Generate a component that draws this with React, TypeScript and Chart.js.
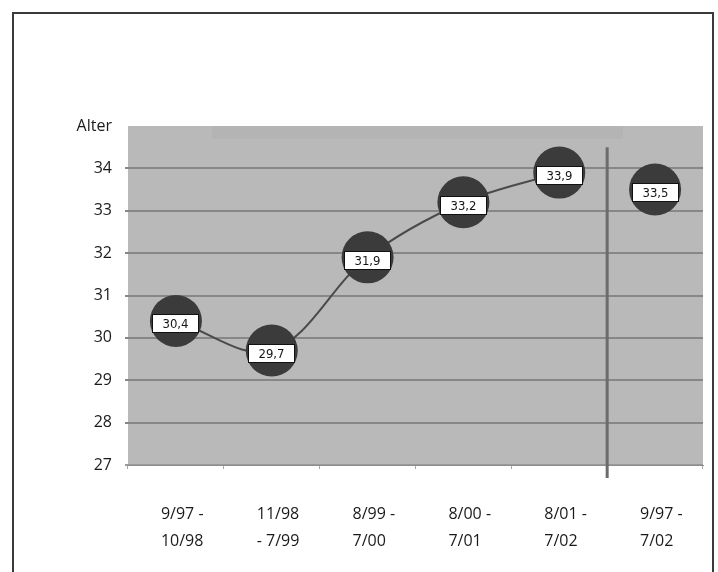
import { useEffect, useRef } from 'react';
import { Chart, registerables } from 'chart.js';

Chart.register(...registerables);

// Periods along the x axis (two lines each)
const periods: string[][] = [
  ['9/97 -', '10/98'],
  ['11/98', '- 7/99'],
  ['8/99 -', '7/00'],
  ['8/00 -', '7/01'],
  ['8/01 -', '7/02'],
  ['9/97 -', '7/02'],
];

// Average age per yearly period, and the overall average
const yearlyAge: (number | null)[] = [30.4, 29.7, 31.9, 33.2, 33.9, null];
const overallAge: (number | null)[] = [null, null, null, null, null, 33.5];

const yMin = 27;
const yMax = 35;
const yAxisTitle = 'Alter';

const fmt = (v: number) => v.toFixed(1).replace('.', ',');

const plotBackground = {
  id: 'plotBackground',
  beforeDraw(chart: any) {
    const { ctx, chartArea: a } = chart;
    ctx.save();
    ctx.fillStyle = '#b9b9b9';
    ctx.fillRect(a.left, a.top, a.right - a.left, a.bottom - a.top);
    // faint band along the top edge
    ctx.fillStyle = '#b4b4b4';
    ctx.fillRect(a.left + 84, a.top, 411, 13);
    ctx.restore();
  },
};

const separator = {
  id: 'separator',
  beforeDatasetsDraw(chart: any) {
    const { ctx, scales } = chart;
    const x = (scales.x.getPixelForValue(4) + scales.x.getPixelForValue(5)) / 2;
    ctx.save();
    ctx.strokeStyle = '#6c6c6c';
    ctx.lineWidth = 3;
    ctx.beginPath();
    ctx.moveTo(x, scales.y.getPixelForValue(34.5));
    ctx.lineTo(x, scales.y.bottom + 13);
    ctx.stroke();
    ctx.restore();
  },
};

const valueBoxes = {
  id: 'valueBoxes',
  afterDatasetsDraw(chart: any) {
    const { ctx } = chart;
    ctx.save();
    ctx.font = '13px "DejaVu Sans Condensed", "DejaVu Sans", sans-serif';
    ctx.textAlign = 'center';
    ctx.textBaseline = 'middle';
    chart.data.datasets.forEach((ds: any, i: number) => {
      const meta = chart.getDatasetMeta(i);
      ds.data.forEach((v: number | null, j: number) => {
        if (v === null || v === undefined) return;
        const el = meta.data[j];
        const text = fmt(v);
        const w = Math.round(ctx.measureText(text).width + 21);
        const h = 19;
        const left = Math.round(el.x - w / 2);
        const top = Math.round(el.y + 3 - h / 2);
        ctx.fillStyle = '#ffffff';
        ctx.fillRect(left, top, w, h);
        ctx.strokeStyle = '#111111';
        ctx.lineWidth = 1;
        ctx.strokeRect(left + 0.5, top + 0.5, w - 1, h - 1);
        ctx.fillStyle = '#151515';
        ctx.fillText(text, left + w / 2, top + h / 2 + 1);
      });
    });
    ctx.restore();
  },
};

export default function App() {
  const canvasRef = useRef<HTMLCanvasElement | null>(null);

  useEffect(() => {
    const canvas = canvasRef.current;
    if (!canvas) return;
    const pointStyle = {
      pointRadius: 26,
      pointHoverRadius: 26,
      pointBackgroundColor: '#3b3b3b',
      pointBorderWidth: 0,
      pointHoverBorderWidth: 0,
    };
    const chart = new Chart(canvas, {
      type: 'line',
      data: {
        labels: periods,
        datasets: [
          {
            data: yearlyAge,
            borderColor: '#4a4a4a',
            borderWidth: 2,
            tension: 0.35,
            spanGaps: false,
            ...pointStyle,
          },
          {
            data: overallAge,
            showLine: false,
            ...pointStyle,
          },
        ],
      },
      options: {
        animation: false,
        responsive: false,
        devicePixelRatio: 1,
        events: [],
        layout: { autoPadding: false, padding: { left: 0, top: 126, right: 15, bottom: 0 } },
        plugins: {
          legend: { display: false },
          tooltip: { enabled: false },
          title: { display: false },
        },
        scales: {
          x: {
            offset: true,
            grid: {
              offset: true,
              drawOnChartArea: false,
              drawTicks: true,
              tickLength: 4,
              color: '#a8a8a8',
              lineWidth: 1,
            },
            border: { display: true, color: '#8e8e8e', width: 1 },
            ticks: {
              align: 'start',
              labelOffset: -15,
              padding: 32,
              color: '#1a1a1a',
              maxRotation: 0,
              autoSkip: false,
              font: { family: '"Open Sans", sans-serif', size: 16, lineHeight: 1.67 },
            },
            afterFit(scale: any) {
              scale.height = 107;
              scale.paddingLeft = 0;
              scale.paddingRight = 0;
            },
          },
          y: {
            min: yMin,
            max: yMax,
            grid: {
              color: (c: any) =>
                c.tick && c.tick.value === yMax ? 'rgba(0,0,0,0)' : c.tick && c.tick.value === yMin ? '#9a9a9a' : '#878787',
              lineWidth: 2,
              drawTicks: true,
              tickLength: 3,
            },
            border: { display: false },
            ticks: {
              stepSize: 1,
              padding: 13,
              color: '#1a1a1a',
              font: { family: '"Open Sans", sans-serif', size: 16 },
              callback: (v: any) => (v === yMax ? yAxisTitle : String(v)),
            },
            afterFit(scale: any) {
              scale.width = 128;
              scale.paddingTop = 0;
              scale.paddingBottom = 0;
            },
          },
        },
      },
      plugins: [plotBackground, separator, valueBoxes],
    });
    return () => chart.destroy();
  }, []);

  return (
    <div style={{ position: 'absolute', left: 0, top: 0, width: 718, height: 572, overflow: 'hidden', background: '#ffffff' }}>
      <div
        style={{
          position: 'absolute',
          left: 12,
          top: 12,
          width: 702,
          height: 640,
          boxSizing: 'border-box',
          borderTop: '2px solid #3a3a3a',
          borderLeft: '2px solid #3a3a3a',
          borderRight: '2px solid #3a3a3a',
        }}
      />
      <canvas ref={canvasRef} width={718} height={572} style={{ position: 'absolute', left: 0, top: 0, width: 718, height: 572 }} />
    </div>
  );
}
